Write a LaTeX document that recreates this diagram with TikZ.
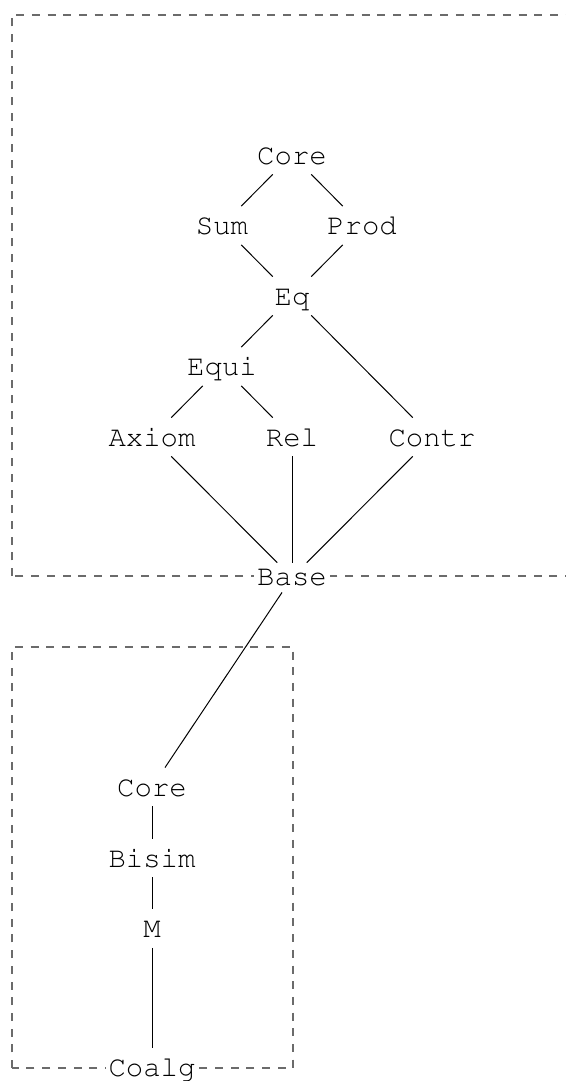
\documentclass[tikz,border=0pt]{standalone}
\usepackage[T1]{fontenc}
\usepackage{courier}
\tikzset{
  lbl/.style={font=\fontfamily{pcr}\fontsize{14.5}{17}\selectfont, inner xsep=1.5pt, inner ysep=0pt,
    text height=14pt, text depth=5pt, anchor=base},
  lowlbl/.style={lbl, text height=11pt, text depth=3.5pt, fill=white},
  edge/.style={draw=black, line width=0.5pt},
  cluster/.style={draw=black!58, line width=0.65pt, dash pattern=on 4pt off 3.85pt}
}
\begin{document}
\begin{tikzpicture}[x=0.5pt, y=-0.5pt]
  \clip (0,0) rectangle (566,1081);
  \fill[white] (0,0) rectangle (566,1081);

  % package groups
  \draw[cluster] (12,576) -- (12,15) -- (620,15);
  \draw[cluster] (620,576) -- (12,576);
  \draw[cluster] (12,1068) -- (12,647) -- (293,647) -- (293,1068) -- cycle;

  % upper lattice
  \node[lbl] (core)  at (292,164)   {Core};
  \node[lbl] (sum)   at (222,234.5) {Sum};
  \node[lbl] (prod)  at (362,234.5) {Prod};
  \node[lbl] (eq)    at (292,305)   {Eq};
  \node[lbl] (equi)  at (222,375.5) {Equi};
  \node[lbl] (axiom) at (152,446)   {Axiom};
  \node[lbl] (rel)   at (292,446)   {Rel};
  \node[lbl] (contr) at (432,446)   {Contr};
  \node[lowlbl] (base) at (292,585) {Base};

  % lower chain
  \node[lbl] (core2) at (152,796)   {Core};
  \node[lbl] (bisim) at (152,867)   {Bisim};
  \node[lbl] (m)     at (152,937.5) {M};
  \node[lbl, fill=white] (coalg) at (152,1076) {Coalg};

  \draw[edge] (core) -- (sum);
  \draw[edge] (core) -- (prod);
  \draw[edge] (sum) -- (eq);
  \draw[edge] (prod) -- (eq);
  \draw[edge] (eq) -- (equi);
  \draw[edge] (eq) -- (contr);
  \draw[edge] (equi) -- (axiom);
  \draw[edge] (equi) -- (rel);
  \draw[edge] (axiom) -- (base);
  \draw[edge] (rel) -- (base);
  \draw[edge] (contr) -- (base);
  \draw[edge] (base) -- (core2);
  \draw[edge] (core2) -- (bisim);
  \draw[edge] (bisim) -- (m);
  \draw[edge] (m) -- (coalg);
\end{tikzpicture}
\end{document}
